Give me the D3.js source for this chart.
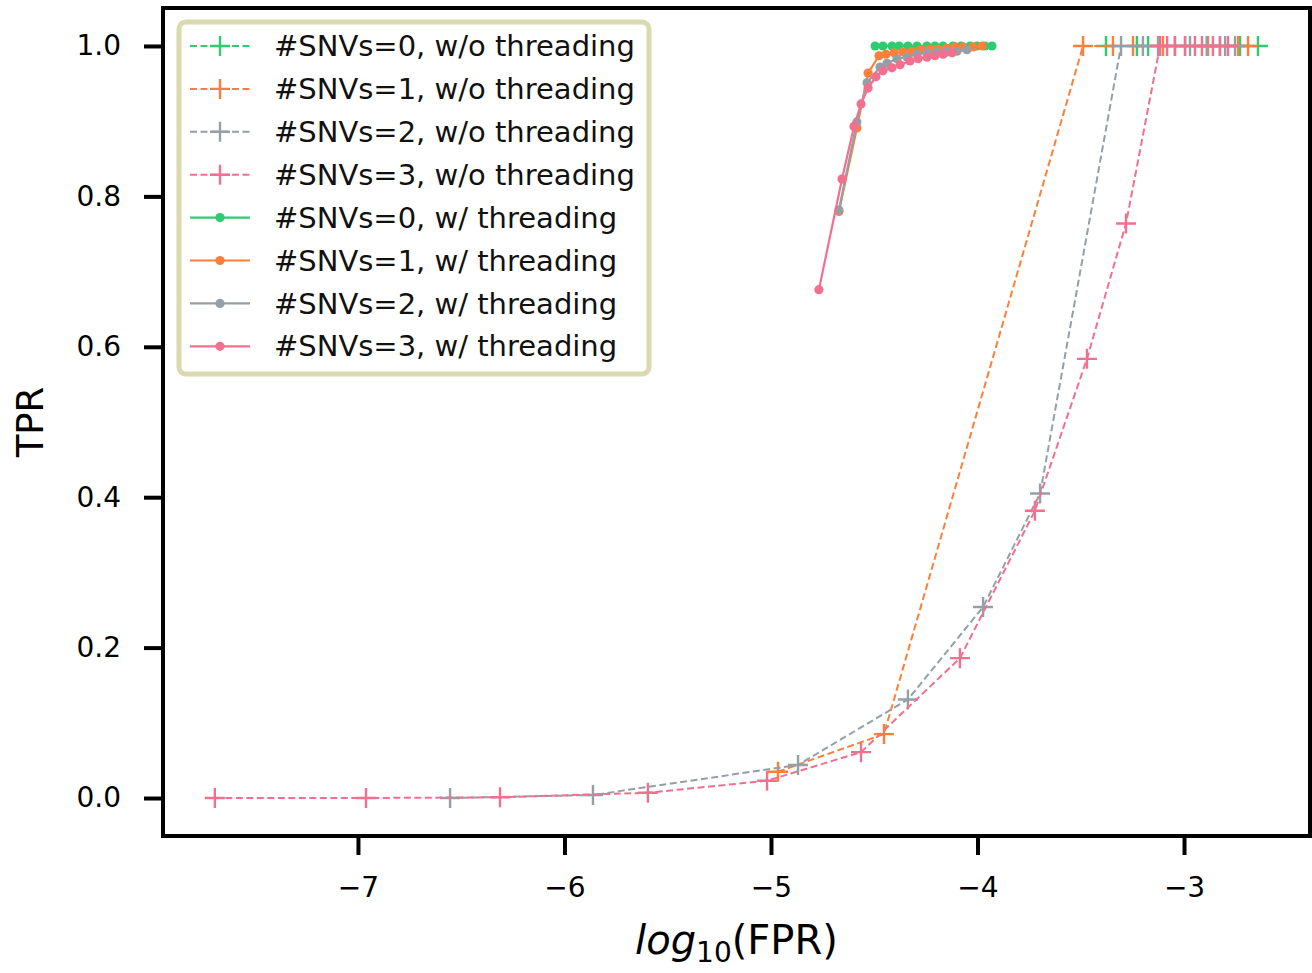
<!DOCTYPE html>
<html>
<head>
<meta charset="utf-8">
<script src="https://cdnjs.cloudflare.com/ajax/libs/d3/7.8.5/d3.min.js"></script>
<style>
  body { margin: 0; background: #fff; }
  text { font-family: "DejaVu Sans", sans-serif; }
</style>
</head>
<body>
<div id="chart"></div>
<script>
// log10(FPR) / TPR values
const x0_wo = [-3.378, -3.228, -3.174, -3.044, -2.995, -2.889, -2.826, -2.729, -2.642];
const y0_wo = [1, 1, 1, 1, 1, 1, 1, 1, 1];
const x1_wo = [-4.966, -4.453, -3.489, -3.344, -3.247, -3.102, -2.884, -2.738, -2.690];
const y1_wo = [0.035, 0.085, 1, 1, 1, 1, 1, 1, 1];
const x2_wo = [-6.554, -5.862, -4.869, -4.337, -3.973, -3.697, -3.305, -3.199, -3.126, -2.971, -2.889, -2.801, -2.753];
const y2_wo = [0.0, 0.004, 0.044, 0.131, 0.254, 0.405, 1, 1, 1, 1, 1, 1, 1];
const x3_wo = [-7.693, -6.961, -6.312, -5.596, -5.019, -4.564, -4.085, -3.722, -3.470, -3.281, -3.116, -3.082, -3.044, -2.995, -2.947, -2.913, -2.860, -2.826, -2.787];
const y3_wo = [0, 0, 0.001, 0.007, 0.023, 0.061, 0.186, 0.382, 0.584, 0.764, 1, 1, 1, 1, 1, 1, 1, 1, 1];

const x0_w = [-4.496, -4.458, -4.414, -4.380, -4.337, -4.293, -4.245, -4.206, -4.167, -4.119, -4.080, -4.036, -4.002, -3.964, -3.930];
const y0_w = [1, 1, 1, 1, 1, 1, 1, 1, 1, 1, 1, 1, 1, 1, 1];
const x1_w = [-4.671, -4.584, -4.530, -4.477, -4.443, -4.404, -4.361, -4.317, -4.274, -4.230, -4.191, -4.148, -4.109, -4.070, -4.022, -3.978];
const y1_w = [0.78, 0.891, 0.964, 0.987, 0.989, 0.991, 0.992, 0.993, 0.995, 0.996, 0.996, 0.997, 0.9987, 0.9987, 0.9987, 1.0];
const x2_w = [-4.671, -4.584, -4.535, -4.472, -4.438, -4.390, -4.341, -4.293, -4.245, -4.196, -4.148, -4.099, -4.051];
const y2_w = [0.782, 0.899, 0.951, 0.972, 0.977, 0.983, 0.985, 0.989, 0.991, 0.992, 0.992, 0.993, 0.995];
const x3_w = [-4.768, -4.656, -4.598, -4.564, -4.530, -4.492, -4.458, -4.414, -4.375, -4.327, -4.288, -4.245, -4.206, -4.167, -4.123];
const y3_w = [0.676, 0.823, 0.893, 0.923, 0.944, 0.959, 0.967, 0.971, 0.975, 0.980, 0.983, 0.985, 0.987, 0.989, 0.991];

const colors = ["#2ecc71", "#fe7f3a", "#959fa6", "#f2708f"];
const labels = [
  "#SNVs=0, w/o threading", "#SNVs=1, w/o threading", "#SNVs=2, w/o threading", "#SNVs=3, w/o threading",
  "#SNVs=0, w/ threading", "#SNVs=1, w/ threading", "#SNVs=2, w/ threading", "#SNVs=3, w/ threading"
];
const xTicks = [-7, -6, -5, -4, -3];
const yTicks = [0.0, 0.2, 0.4, 0.6, 0.8, 1.0];

const width = 1312, height = 973;
const margin = {top: 8, right: 2, bottom: 137, left: 163};

const svg = d3.select("#chart").append("svg")
  .attr("width", width).attr("height", height);

const x = d3.scaleLinear().domain([-7.944, -2.39]).range([margin.left, width - margin.right]);
const y = d3.scaleLinear().domain([-0.0505, 1.0505]).range([height - margin.bottom, margin.top]);

const series = [
  {xs: x0_wo, ys: y0_wo, c: colors[0], dashed: true},
  {xs: x1_wo, ys: y1_wo, c: colors[1], dashed: true},
  {xs: x2_wo, ys: y2_wo, c: colors[2], dashed: true},
  {xs: x3_wo, ys: y3_wo, c: colors[3], dashed: true},
  {xs: x0_w, ys: y0_w, c: colors[0], dashed: false},
  {xs: x1_w, ys: y1_w, c: colors[1], dashed: false},
  {xs: x2_w, ys: y2_w, c: colors[2], dashed: false},
  {xs: x3_w, ys: y3_w, c: colors[3], dashed: false}
];

const line = d3.line().x(d => x(d[0])).y(d => y(d[1]));
const plot = svg.append("g");

series.forEach(s => {
  const pts = s.xs.map((v, i) => [v, s.ys[i]]);
  plot.append("path")
    .attr("d", line(pts))
    .attr("fill", "none")
    .attr("stroke", s.c)
    .attr("stroke-width", s.dashed ? 2 : 2.2)
    .attr("stroke-dasharray", s.dashed ? "7,3.5" : null);
  if (s.dashed) {
    plot.selectAll(null).data(pts).enter().append("path")
      .attr("d", d => `M${x(d[0]) - 10},${y(d[1])}H${x(d[0]) + 10}M${x(d[0])},${y(d[1]) - 10}V${y(d[1]) + 10}`)
      .attr("stroke", s.c)
      .attr("stroke-width", 2.4);
  } else {
    plot.selectAll(null).data(pts).enter().append("circle")
      .attr("cx", d => x(d[0])).attr("cy", d => y(d[1]))
      .attr("r", 4.6).attr("fill", s.c);
  }
});

// axes
const xAxis = svg.append("g")
  .attr("transform", `translate(0,${height - margin.bottom})`)
  .call(d3.axisBottom(x).tickValues(xTicks).tickSize(19).tickPadding(22)
    .tickFormat(d => "\u2212" + Math.abs(d)));
const yAxis = svg.append("g")
  .attr("transform", `translate(${margin.left},0)`)
  .call(d3.axisLeft(y).tickValues(yTicks).tickSize(19).tickPadding(23)
    .tickFormat(d3.format(".1f")));
[xAxis, yAxis].forEach(a => {
  a.select(".domain").remove();
  a.selectAll(".tick line").attr("stroke", "#000").attr("stroke-width", 4);
  a.selectAll(".tick text").attr("fill", "#000").style("font-size", "28px")
    .style("font-family", "DejaVu Sans");
});

// frame
svg.append("rect")
  .attr("x", margin.left).attr("y", margin.top)
  .attr("width", width - margin.left - margin.right)
  .attr("height", height - margin.top - margin.bottom)
  .attr("fill", "none").attr("stroke", "#000").attr("stroke-width", 4);

// axis labels
svg.append("text")
  .attr("transform", `translate(43,${(margin.top + height - margin.bottom) / 2}) rotate(-90)`)
  .attr("text-anchor", "middle")
  .style("font-size", "37px")
  .text("TPR");

const xl = svg.append("text")
  .attr("x", (margin.left + width - margin.right) / 2)
  .attr("y", 954)
  .attr("text-anchor", "middle")
  .style("font-size", "40px");
xl.append("tspan").style("font-style", "italic").text("log");
xl.append("tspan").attr("dy", 8).style("font-size", "28px").text("10");
xl.append("tspan").attr("dy", -8).text("(FPR)");

// legend
const lg = svg.append("g");
lg.append("rect")
  .attr("x", 179).attr("y", 22).attr("width", 470).attr("height", 352)
  .attr("rx", 7).attr("fill", "#fff")
  .attr("stroke", "#dcd8b0").attr("stroke-width", 5);
series.forEach((s, i) => {
  const cy = 46 + i * 42.9;
  lg.append("line")
    .attr("x1", 190).attr("x2", 250).attr("y1", cy).attr("y2", cy)
    .attr("stroke", s.c)
    .attr("stroke-width", s.dashed ? 2 : 2.2)
    .attr("stroke-dasharray", s.dashed ? "7,3.5" : null);
  if (s.dashed) {
    lg.append("path")
      .attr("d", `M210,${cy}H230M220,${cy - 10}V${cy + 10}`)
      .attr("stroke", s.c).attr("stroke-width", 2.4);
  } else {
    lg.append("circle").attr("cx", 220).attr("cy", cy).attr("r", 4.6).attr("fill", s.c);
  }
  lg.append("text")
    .attr("x", 274).attr("y", cy).attr("dy", "0.35em")
    .style("font-size", "29px")
    .attr("fill", "#111")
    .text(labels[i]);
});
</script>
</body>
</html>
